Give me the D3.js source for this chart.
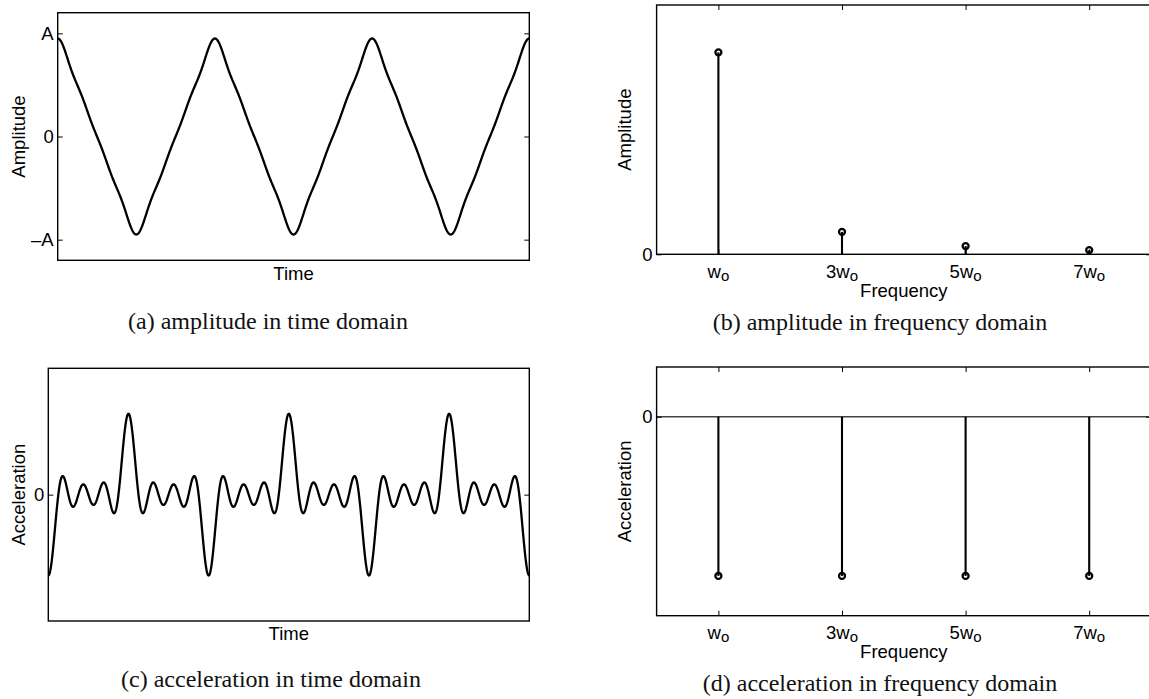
<!DOCTYPE html>
<html>
<head>
<meta charset="utf-8">
<script src="https://cdn.jsdelivr.net/npm/d3@7"></script>
<style>
  html, body { margin: 0; padding: 0; background: #fff; }
  svg { display: block; }
  .lbl { font-family: "Liberation Sans", Arial, Helvetica, sans-serif; font-size: 18.5px; fill: #000; }
  .cap { font-family: "Liberation Serif", "Times New Roman", serif; font-size: 24px; fill: #111; }
</style>
</head>
<body>
<svg id="fig" width="1149" height="699"></svg>
<script>
// ---------------- data ----------------
const harmonics = [1, 3, 5, 7];                       // multiples of w_o
const harmonicPrefixes = ["", "3", "5", "7"];          // tick label text before "w_o"
const amplitudeValues = [0.81, 0.09, 0.033, 0.017];    // panel (b) stem heights
const accelerationValues = [-0.80, -0.80, -0.80, -0.80]; // panel (d) stem heights
const amplitudeTickValues = [1, 0, -1];
const amplitudeTickLabels = ["A", "0", "\u2013A"];
const zeroTickValues = [0];
const zeroTickLabels = ["0"];
const periodsShown = 3;
const captions = [
  "(a) amplitude in time domain",
  "(b) amplitude in frequency domain",
  "(c) acceleration in time domain",
  "(d) acceleration in frequency domain"
];

// time-domain curves are the synthesis of the harmonic components above
const timeSamples = d3.range(0, 1501).map(i => i / 1500 * periodsShown);
const amplitudeSignal = timeSamples.map(t => ({
  t, v: d3.sum(harmonics, (n, i) => amplitudeValues[i] * Math.cos(2 * Math.PI * n * t))
}));
const accelerationSignal = timeSamples.map(t => ({
  t, v: d3.sum(harmonics, (n, i) => accelerationValues[i] * Math.cos(2 * Math.PI * n * t))
}));

// ---------------- drawing ----------------
const svg = d3.select("#fig");

function frame(x, y) {
  const [x0, x1] = x.range(), [yb, yt] = y.range();
  svg.append("rect")
    .attr("x", x0).attr("y", yt).attr("width", x1 - x0).attr("height", yb - yt)
    .attr("fill", "none").attr("stroke", "#000").attr("stroke-width", 1.4);
}
function styleAxis(g) {
  g.attr("font-size", null).attr("font-family", null);
  g.select(".domain").remove();
  g.selectAll(".tick line").attr("stroke", "#000").attr("stroke-width", 1);
  g.selectAll(".tick text").attr("class", "lbl");
}
function yAxes(x, y, values, labels) {
  const [x0, x1] = x.range();
  svg.append("g").attr("transform", `translate(${x0},0)`)
    .call(d3.axisLeft(y).tickValues(values).tickSize(-5).tickPadding(4)
      .tickFormat((d, i) => labels[i]))
    .call(styleAxis);
  svg.append("g").attr("transform", `translate(${x1},0)`)
    .call(d3.axisRight(y).tickValues(values).tickSize(-5).tickFormat(""))
    .call(styleAxis);
}
function yLabel(text, xPos, y) {
  const [yb, yt] = y.range();
  svg.append("text").attr("class", "lbl")
    .attr("transform", `translate(${xPos},${(yb + yt) / 2}) rotate(-90)`)
    .attr("text-anchor", "middle").text(text);
}
function xLabel(text, x, yPos) {
  const [x0, x1] = x.range();
  svg.append("text").attr("class", "lbl")
    .attr("x", (x0 + x1) / 2).attr("y", yPos)
    .attr("text-anchor", "middle").text(text);
}
function caption(text, cx, by) {
  svg.append("text").attr("class", "cap").attr("x", cx).attr("y", by)
    .attr("text-anchor", "middle").text(text);
}
function freqAxes(x, y) {
  const [yb, yt] = y.range();
  svg.append("g").attr("transform", `translate(0,${yb})`)
    .call(d3.axisBottom(x).tickValues(harmonics).tickSize(-5).tickFormat(""))
    .call(styleAxis);
  svg.append("g").attr("transform", `translate(0,${yt})`)
    .call(d3.axisTop(x).tickValues(harmonics).tickSize(-5).tickFormat(""))
    .call(styleAxis);
  const t = svg.append("g").selectAll("text").data(harmonics).join("text")
    .attr("class", "lbl").attr("text-anchor", "middle")
    .attr("x", d => x(d)).attr("y", yb + 23.2);
  t.append("tspan").text((d, i) => harmonicPrefixes[i] + "w");
  t.append("tspan").attr("font-size", "15px").attr("dy", 3.5).text("o");
}
function stems(x, y, values) {
  const g = svg.append("g");
  g.selectAll("line").data(harmonics).join("line")
    .attr("x1", d => x(d)).attr("x2", d => x(d))
    .attr("y1", y(0)).attr("y2", (d, i) => y(values[i]))
    .attr("stroke", "#000").attr("stroke-width", 2.1);
  g.selectAll("circle").data(harmonics).join("circle")
    .attr("cx", d => x(d)).attr("cy", (d, i) => y(values[i])).attr("r", 3)
    .attr("fill", "none").attr("stroke", "#000").attr("stroke-width", 2.3);
}
function curve(x, y, data) {
  svg.append("path").datum(data)
    .attr("d", d3.line().x(d => x(d.t)).y(d => y(d.v)))
    .attr("fill", "none").attr("stroke", "#000").attr("stroke-width", 2.3)
    .attr("stroke-linejoin", "round");
}

// Panel (a)
{
  const x = d3.scaleLinear().domain([0, periodsShown]).range([57.7, 529.3]);
  const y = d3.scaleLinear().domain([-1.2, 1.2]).range([260.3, 12.7]);
  curve(x, y, amplitudeSignal);
  yAxes(x, y, amplitudeTickValues, amplitudeTickLabels);
  frame(x, y);
  yLabel("Amplitude", 25, y);
  xLabel("Time", x, 280.3);
  caption(captions[0], 268, 329);
}
// Panel (b)
{
  const x = d3.scaleLinear().domain([0, 8]).range([656.6, 1151]);
  const y = d3.scaleLinear().domain([0, 1]).range([254.3, 5]);
  stems(x, y, amplitudeValues);
  yAxes(x, y, zeroTickValues, zeroTickLabels);
  freqAxes(x, y);
  frame(x, y);
  yLabel("Amplitude", 630.5, y);
  xLabel("Frequency", x, 297);
  caption(captions[1], 880, 330);
}
// Panel (c)
{
  const x = d3.scaleLinear().domain([0, periodsShown]).range([48.3, 529.3]);
  const y = d3.scaleLinear().domain([-5, 5]).range([621, 368.3]);
  curve(x, y, accelerationSignal);
  yAxes(x, y, zeroTickValues, zeroTickLabels);
  frame(x, y);
  yLabel("Acceleration", 25, y);
  xLabel("Time", x, 639.5);
  caption(captions[2], 271, 687);
}
// Panel (d)
{
  const x = d3.scaleLinear().domain([0, 8]).range([656.6, 1151]);
  const y = d3.scaleLinear().domain([-1, 0.25]).range([615.7, 367]);
  svg.append("line").attr("x1", x.range()[0]).attr("x2", x.range()[1])
    .attr("y1", y(0)).attr("y2", y(0)).attr("stroke", "#444").attr("stroke-width", 1.5);
  stems(x, y, accelerationValues);
  yAxes(x, y, zeroTickValues, zeroTickLabels);
  freqAxes(x, y);
  frame(x, y);
  yLabel("Acceleration", 630.5, y);
  xLabel("Frequency", x, 658.4);
  caption(captions[3], 880, 691);
}
</script>
</body>
</html>
